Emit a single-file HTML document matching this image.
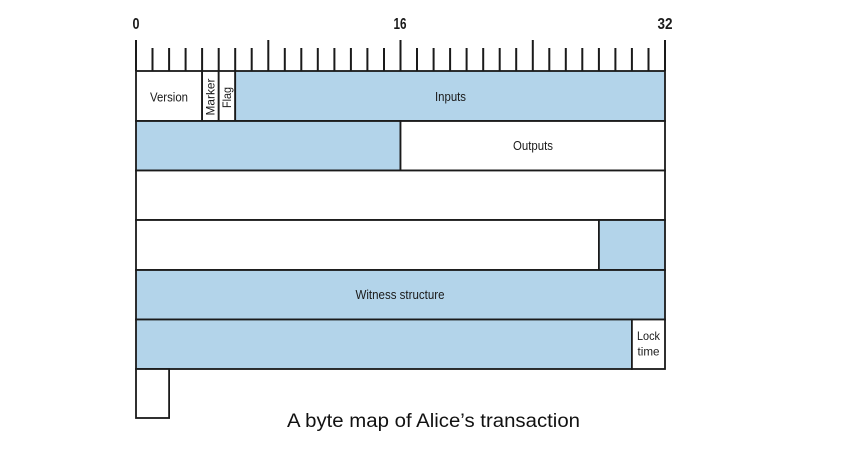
<!DOCTYPE html>
<html>
<head>
<meta charset="utf-8">
<style>
html,body{margin:0;padding:0;background:#fff;}
svg{display:block;}
text{font-family:"Liberation Sans",sans-serif;fill:#1a1a1a;}
</style>
</head>
<body>
<svg width="844" height="457" viewBox="0 0 844 457" xmlns="http://www.w3.org/2000/svg">
  <!-- scale numbers -->
  <text x="136" y="29" font-size="16" font-weight="bold" text-anchor="middle" textLength="7" lengthAdjust="spacingAndGlyphs">0</text>
  <text x="400" y="29" font-size="16" font-weight="bold" text-anchor="middle" textLength="13" lengthAdjust="spacingAndGlyphs">16</text>
  <text x="665" y="29" font-size="16" font-weight="bold" text-anchor="middle" textLength="15" lengthAdjust="spacingAndGlyphs">32</text>

  <!-- ticks -->
  <g stroke="#1a1a1a" stroke-width="2">
    <line x1="136" y1="40" x2="136" y2="71"/>
    <line x1="152.5" y1="48" x2="152.5" y2="71"/>
    <line x1="169.1" y1="48" x2="169.1" y2="71"/>
    <line x1="185.6" y1="48" x2="185.6" y2="71"/>
    <line x1="202.1" y1="48" x2="202.1" y2="71"/>
    <line x1="218.7" y1="48" x2="218.7" y2="71"/>
    <line x1="235.2" y1="48" x2="235.2" y2="71"/>
    <line x1="251.7" y1="48" x2="251.7" y2="71"/>
    <line x1="268.3" y1="40" x2="268.3" y2="71"/>
    <line x1="284.8" y1="48" x2="284.8" y2="71"/>
    <line x1="301.3" y1="48" x2="301.3" y2="71"/>
    <line x1="317.8" y1="48" x2="317.8" y2="71"/>
    <line x1="334.4" y1="48" x2="334.4" y2="71"/>
    <line x1="350.9" y1="48" x2="350.9" y2="71"/>
    <line x1="367.4" y1="48" x2="367.4" y2="71"/>
    <line x1="384" y1="48" x2="384" y2="71"/>
    <line x1="400.5" y1="40" x2="400.5" y2="71"/>
    <line x1="417" y1="48" x2="417" y2="71"/>
    <line x1="433.6" y1="48" x2="433.6" y2="71"/>
    <line x1="450.1" y1="48" x2="450.1" y2="71"/>
    <line x1="466.6" y1="48" x2="466.6" y2="71"/>
    <line x1="483.2" y1="48" x2="483.2" y2="71"/>
    <line x1="499.7" y1="48" x2="499.7" y2="71"/>
    <line x1="516.2" y1="48" x2="516.2" y2="71"/>
    <line x1="532.8" y1="40" x2="532.8" y2="71"/>
    <line x1="549.3" y1="48" x2="549.3" y2="71"/>
    <line x1="565.8" y1="48" x2="565.8" y2="71"/>
    <line x1="582.3" y1="48" x2="582.3" y2="71"/>
    <line x1="598.9" y1="48" x2="598.9" y2="71"/>
    <line x1="615.4" y1="48" x2="615.4" y2="71"/>
    <line x1="631.9" y1="48" x2="631.9" y2="71"/>
    <line x1="648.5" y1="48" x2="648.5" y2="71"/>
    <line x1="665" y1="40" x2="665" y2="71"/>
  </g>

  <g stroke="#1a1a1a" stroke-width="1.8">
    <!-- Row 1 -->
    <rect x="136" y="71" width="66.1" height="50" fill="#ffffff"/>
    <rect x="202.1" y="71" width="16.6" height="50" fill="#ffffff"/>
    <rect x="218.7" y="71" width="16.5" height="50" fill="#ffffff"/>
    <rect x="235.2" y="71" width="429.8" height="50" fill="#b3d4ea"/>
    <!-- Row 2 -->
    <rect x="136" y="121" width="264.5" height="49.5" fill="#b3d4ea"/>
    <rect x="400.5" y="121" width="264.5" height="49.5" fill="#ffffff"/>
    <!-- Row 3 -->
    <rect x="136" y="170.5" width="529" height="49.5" fill="#ffffff"/>
    <!-- Row 4 -->
    <rect x="136" y="220" width="462.9" height="50" fill="#ffffff"/>
    <rect x="598.9" y="220" width="66.1" height="50" fill="#b3d4ea"/>
    <!-- Row 5 -->
    <rect x="136" y="270" width="529" height="49.5" fill="#b3d4ea"/>
    <!-- Row 6 -->
    <rect x="136" y="319.5" width="495.9" height="49.5" fill="#b3d4ea"/>
    <rect x="631.9" y="319.5" width="33.1" height="49.5" fill="#ffffff"/>
    <!-- Row 7 -->
    <rect x="136" y="369" width="33.1" height="49" fill="#ffffff"/>
  </g>

  <!-- labels -->
  <text x="169" y="101.5" font-size="12.5" text-anchor="middle" textLength="38" lengthAdjust="spacingAndGlyphs">Version</text>
  <text transform="translate(214.5,97) rotate(-90)" font-size="12" text-anchor="middle" textLength="37" lengthAdjust="spacingAndGlyphs">Marker</text>
  <text transform="translate(231,97.5) rotate(-90)" font-size="12" text-anchor="middle" textLength="21" lengthAdjust="spacingAndGlyphs">Flag</text>
  <text x="450.5" y="101" font-size="12.5" text-anchor="middle" textLength="31" lengthAdjust="spacingAndGlyphs">Inputs</text>
  <text x="533" y="150" font-size="12.5" text-anchor="middle" textLength="40" lengthAdjust="spacingAndGlyphs">Outputs</text>
  <text x="400" y="299" font-size="12.5" text-anchor="middle" textLength="89" lengthAdjust="spacingAndGlyphs">Witness structure</text>
  <text x="648.5" y="340" font-size="12" text-anchor="middle" textLength="23" lengthAdjust="spacingAndGlyphs">Lock</text>
  <text x="648.5" y="355.5" font-size="12" text-anchor="middle" textLength="22" lengthAdjust="spacingAndGlyphs">time</text>

  <!-- caption -->
  <text x="433.5" y="427" font-size="19" text-anchor="middle" textLength="293" lengthAdjust="spacingAndGlyphs" style="fill:#111">A byte map of Alice’s transaction</text>
</svg>
</body>
</html>
